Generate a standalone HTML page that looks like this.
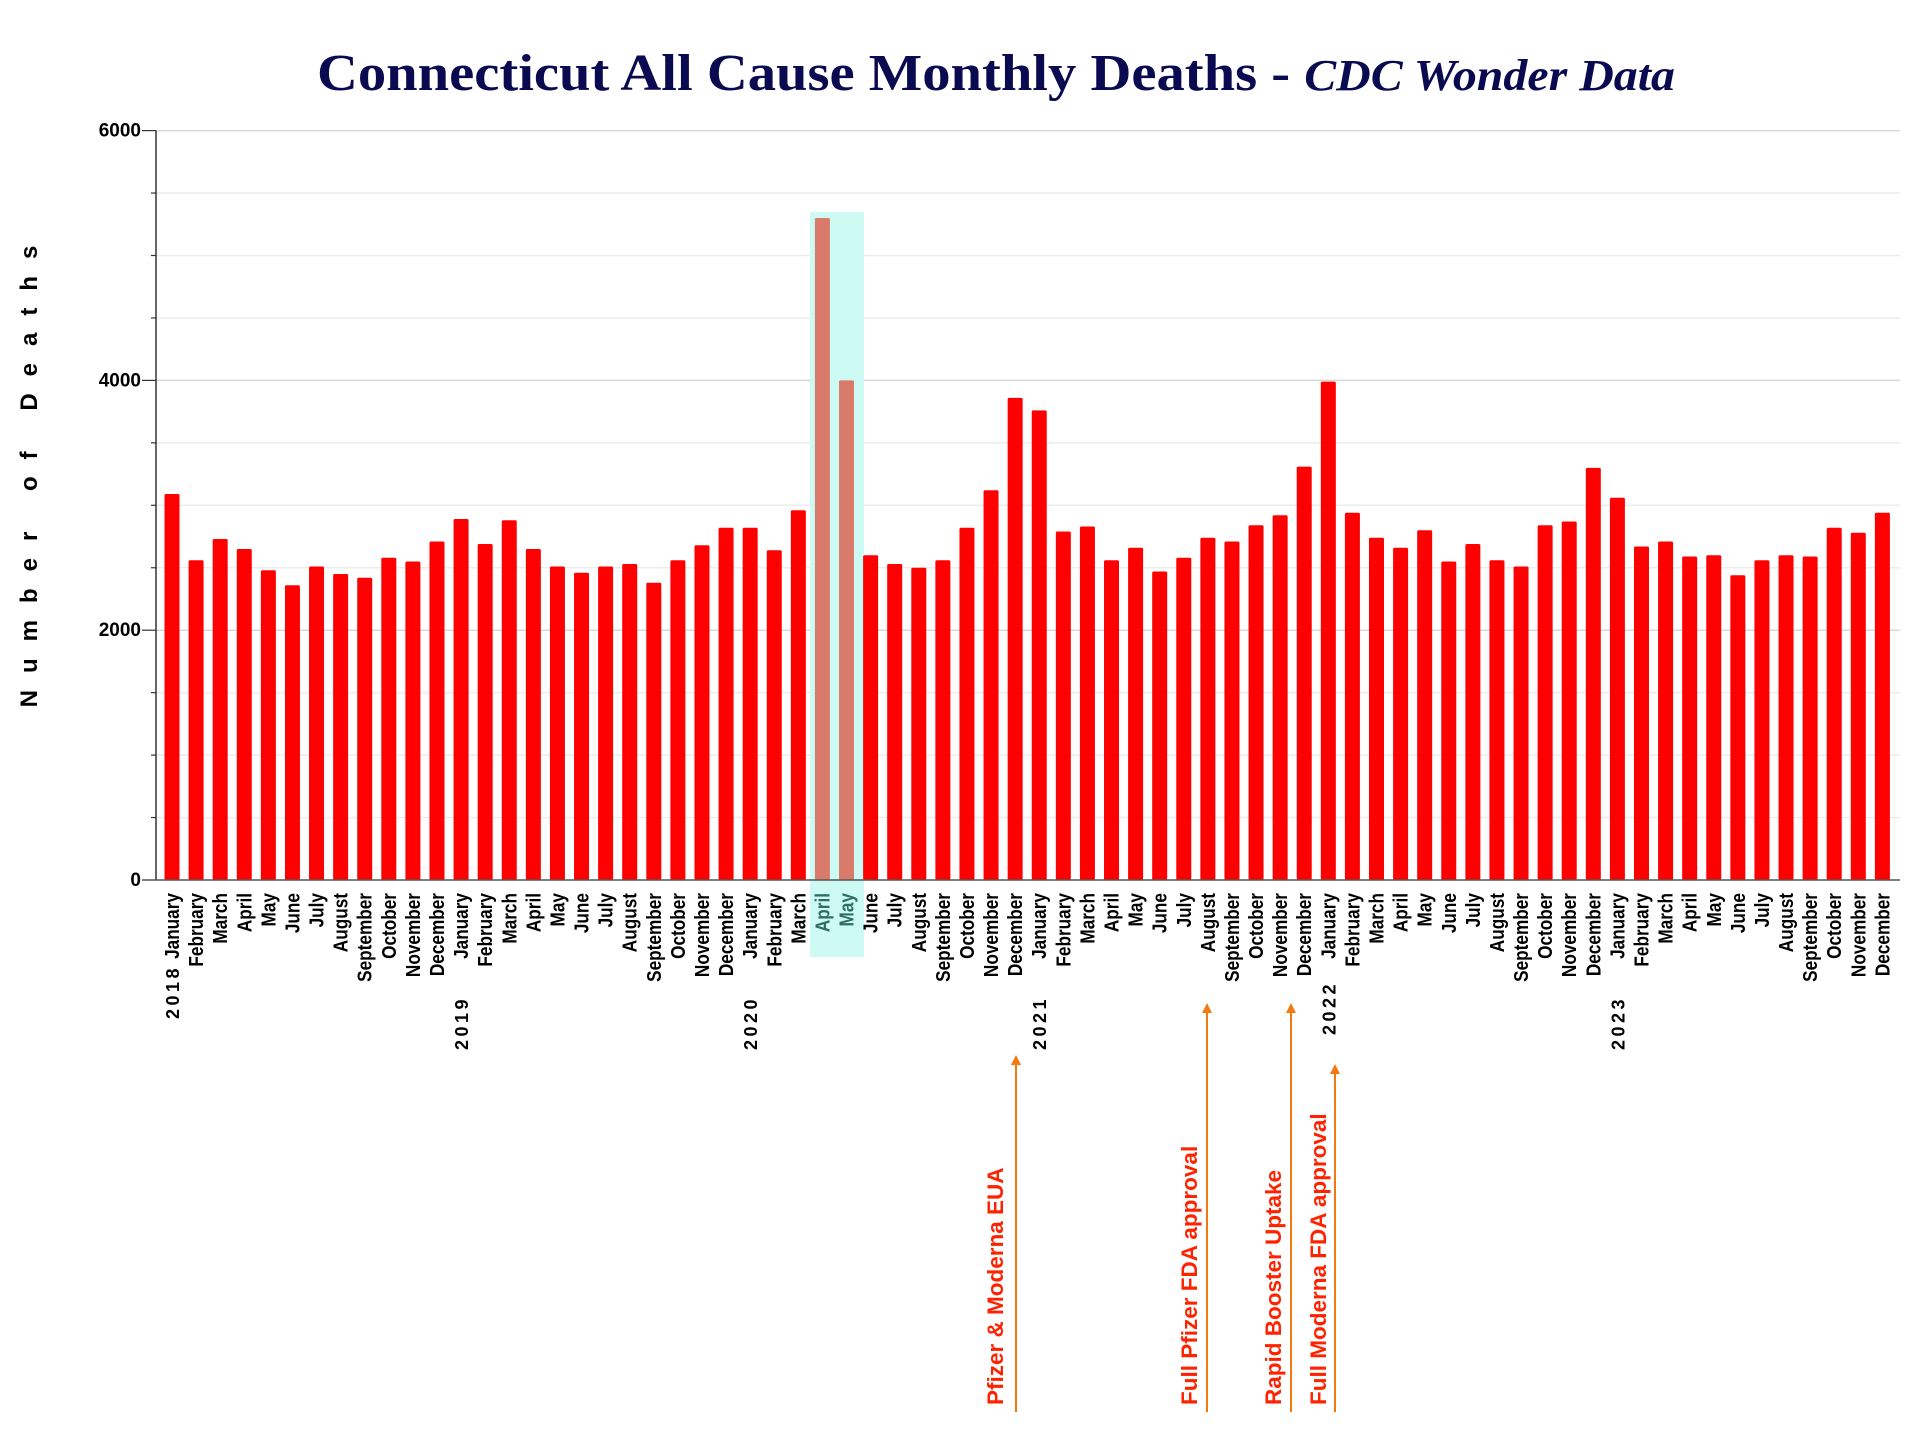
<!DOCTYPE html>
<html><head><meta charset="utf-8"><style>
html,body{margin:0;padding:0;background:#fff;}
svg{display:block;}
.lab{font-family:"Liberation Sans Narrow","Liberation Sans",sans-serif;font-weight:bold;font-size:20px;fill:#000;}
.yr{font-family:"Liberation Sans",sans-serif;font-weight:bold;font-size:18px;letter-spacing:3.5px;fill:#000;}
.tk{font-family:"Liberation Sans",sans-serif;font-weight:900;font-size:19px;fill:#000;}
.ann{font-family:"Liberation Sans",sans-serif;font-weight:bold;font-size:22.5px;fill:#ff2200;}
</style></head><body>
<svg id="chart" width="1914" height="1431" viewBox="0 0 1914 1431" xmlns="http://www.w3.org/2000/svg">
<text x="317" y="90" textLength="1358" lengthAdjust="spacingAndGlyphs" font-family="Liberation Serif, serif" font-weight="bold" font-size="52" fill="#0a0a50">Connecticut All Cause Monthly Deaths - <tspan font-style="italic" font-size="44">CDC Wonder Data</tspan></text>
<text transform="translate(37,468) rotate(-90)" text-anchor="middle" font-family="Liberation Sans, sans-serif" font-weight="bold" font-size="24" letter-spacing="17">Number of Deaths</text>
<g id="grid"></g>
<rect x="810" y="212" width="54" height="745" fill="#cdfaf2"/>
<g id="bars"></g>
<g id="xlabels"></g>
<g id="axes"></g>
<g id="ann"></g>
</svg>
<script>
const months = ["January","February","March","April","May","June","July","August","September","October","November","December"];
const years = ["2018","2019","2020","2021","2022","2023"];
const deaths = [
3090,2560,2730,2650,2480,2360,2510,2450,2420,2580,2550,2710,
2890,2690,2880,2650,2510,2460,2510,2530,2380,2560,2680,2820,
2820,2640,2960,5300,4000,2600,2530,2500,2560,2820,3120,3860,
3760,2790,2830,2560,2660,2470,2580,2740,2710,2840,2920,3310,
3990,2940,2740,2660,2800,2550,2690,2560,2510,2840,2870,3300,
3060,2670,2710,2590,2600,2440,2560,2600,2590,2820,2780,2940];
const highlighted = [27,28];
const yTicks = [0,2000,4000,6000];
const annotations = ["Pfizer & Moderna EUA","Full Pfizer FDA approval","Rapid Booster Uptake","Full Moderna FDA approval"];
const annotationIndex = [35,43,46,48];

const NS="http://www.w3.org/2000/svg";
const X0=156,X1=1900,Y0=880,YT=130.6,YMAX=6000;
const step=24.09, first=172, bw=15;
const xc=i=>first+i*step;
const y=v=>Y0-(v/YMAX)*(Y0-YT);
function mk(tag,attrs,parent,txt){const e=document.createElementNS(NS,tag);for(const k in attrs)e.setAttribute(k,attrs[k]);if(txt!==undefined)e.textContent=txt;parent.appendChild(e);return e;}
const grid=document.getElementById('grid'),bars=document.getElementById('bars'),xl=document.getElementById('xlabels'),axes=document.getElementById('axes'),ann=document.getElementById('ann');
for(let v=500;v<=YMAX;v+=500){
  const l=mk('line',{x1:X0,x2:X1,y1:y(v),y2:y(v),stroke:v%2000===0?'#d8d8d8':'#ececec','stroke-width':1.5},grid);
  
  
  const t=mk('line',{x1:X0-(v%2000===0?14:5),x2:X0,y1:y(v),y2:y(v),stroke:'#333','stroke-width':1.2},axes);
  
  
}
yTicks.forEach(v=>{
  const t=mk('text',{x:141,y:y(v)+6,'text-anchor':'end',class:'tk'},axes,String(v));
  
  
});
mk('line',{x1:X0,x2:X0,y1:YT,y2:Y0,stroke:'#333','stroke-width':1.5},axes);
const zt=mk('line',{x1:X0-14,x2:X1,y1:Y0,y2:Y0,stroke:'#555','stroke-width':1.5},axes);


deaths.forEach((v,i)=>{
  const hi=highlighted.includes(i);
  const r=mk('rect',{x:xc(i)-bw/2,y:y(v),width:bw,height:Y0-y(v),fill:hi?'#d97a6a':'#ff0000',rx:1.5},bars);
  
  
  const t=mk('text',{transform:`translate(${xc(i)+7},${Y0+13}) rotate(-90) scale(0.86,1)`,'text-anchor':'end',class:'lab'},xl,months[i%12]);
  if(hi)t.setAttribute('style','fill:#2e6e60');
  
  
  if(i%12===0){
    const yb=i===0?1019:(i===48?1035:1050);
    const yt=mk('text',{transform:`translate(${xc(i)+7},${yb}) rotate(-90)`,'text-anchor':'start',class:'yr'},xl,years[i/12]);
    
    
  }
});
const arrowX=[1016,1207,1291,1335], arrowTop=[1055,1003,1003,1064], textX=[1003,1197,1281,1326];
annotations.forEach((a,k)=>{
  const ax=arrowX[k];
  const l=mk('line',{x1:ax,x2:ax,y1:arrowTop[k]+8,y2:1412,stroke:'#f07a10','stroke-width':2},ann);
  
  
  mk('polygon',{points:`${ax-5},${arrowTop[k]+10} ${ax+5},${arrowTop[k]+10} ${ax},${arrowTop[k]}`,fill:'#f07a10'},ann);
  const t=mk('text',{transform:`translate(${textX[k]},1405) rotate(-90)`,class:'ann'},ann,a);
  
  
});
</script>
</body></html>
